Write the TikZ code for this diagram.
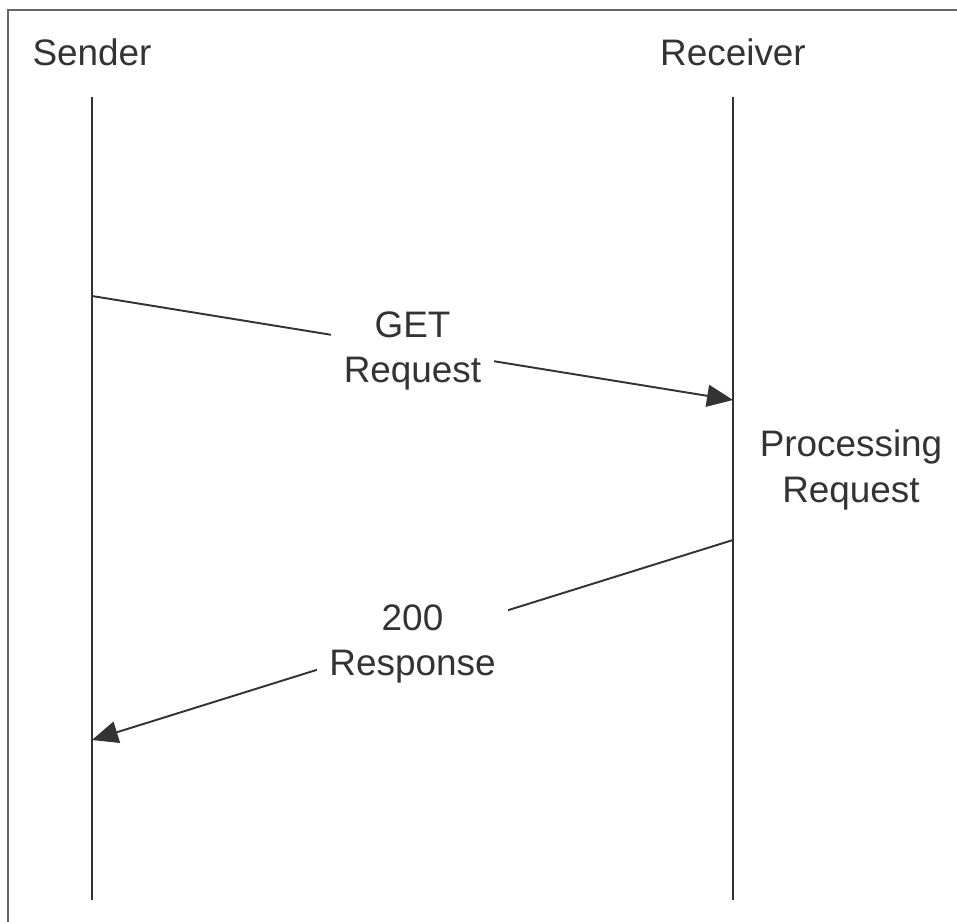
\documentclass[tikz,border=0pt]{standalone}
\usepackage{fontspec}
\setmainfont{Liberation Sans}
\usepackage{tikz}
\usetikzlibrary{arrows.meta,calc,positioning}
\definecolor{inkgray}{HTML}{333333}
\definecolor{framegray}{HTML}{666666}
\tikzset{%
	actor/.style    = {text=inkgray, font=\fontsize{21}{26}\selectfont, align=center},
	lifeline/.style = {draw=inkgray, line width=1.2pt},
	msg/.style      = {draw=inkgray, line width=1.1pt, -{Triangle[length=0.52cm,width=0.44cm]}},
	msglabel/.style = {fill=white, text=inkgray, font=\fontsize{21}{26}\selectfont, align=center, inner sep=7pt},
}
\begin{document}
\begin{tikzpicture}[x=0.02cm,y=-0.02cm]
		\useasboundingbox (0,0) rectangle (957,922);
		\draw[framegray, line width=1.3pt] (8,922) -- (8,10) -- (957,10);
		
		\node[actor] (sender) at (92,52) {Sender};
		\node[actor] (receiver) at (733,52) {Receiver};
		
		\coordinate (stop) at (92,97);
		\coordinate (sbot) at (92,900);
		\coordinate (rtop) at (733,97);
		\coordinate (rbot) at (733,900);
		\draw[lifeline] (stop) -- (sbot);
		\draw[lifeline] (rtop) -- (rbot);
		
		\coordinate (getout) at (92,296);
		\coordinate (getin) at (733,400);
		\coordinate (respout) at (733,540);
		\coordinate (respin) at (92,740);
		\draw[msg] (getout) -- (getin) node[msglabel, pos=0.5, yshift=-0.06cm] (getlabel) {GET\\Request};
		\draw[msg] (respout) -- (respin) node[msglabel, pos=0.5, yshift=-0.08cm] (resplabel) {200\\Response};
		
		\node[actor] (processing) at (851,470) {Processing\\Request};
		
	\end{tikzpicture}
\end{document}
